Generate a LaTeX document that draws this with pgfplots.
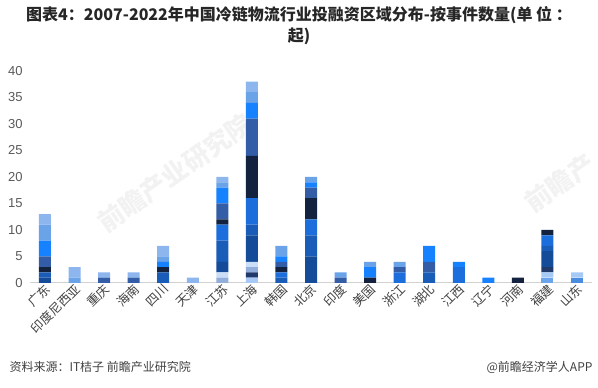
\documentclass[border=0pt]{standalone}
\usepackage{fontspec}
\setmainfont{Liberation Sans}
\newfontfamily\cjk{Noto Sans CJK SC}
\usepackage{pgfplots}
\pgfplotsset{compat=1.18}
\usepackage{pgfplotstable}
\definecolor{cA}{HTML}{4A8CE0}
\definecolor{cB}{HTML}{6CA5EC}
\definecolor{c1}{HTML}{A6C9F5}
\definecolor{c2}{HTML}{203A6B}
\definecolor{c3}{HTML}{93AEDB}
\definecolor{c4}{HTML}{CADFF7}
\definecolor{c5}{HTML}{154C9A}
\definecolor{c6}{HTML}{1A5DB9}
\definecolor{c7}{HTML}{1C6EDD}
\definecolor{c8}{HTML}{13223F}
\definecolor{c9}{HTML}{345DA7}
\definecolor{c10}{HTML}{1682FF}
\definecolor{c11}{HTML}{6AA3E8}
\definecolor{c12}{HTML}{8DB5EE}
\definecolor{tick}{HTML}{595959}
\definecolor{lab}{HTML}{404040}
\pgfplotstableread{
x sA sB s1 s2 s3 s4 s5 s6 s7 s8 s9 s10 s11 s12
0 0 0 0 0 0 0 1 1 0 1 2 3 3 2
1 0 0 0 0 0 0 0 0 0 0 0 0 1 2
2 0 0 0 0 0 0 0 0 0 0 1 0 0 1
3 0 0 0 0 0 0 0 0 0 0 1 0 0 1
4 0 0 0 0 0 0 0 2 0 1 0 1 1 2
5 0 0 0 0 0 0 0 0 0 0 0 0 0 1
6 0 0 0 0 1 1 2 4 3 1 3 3 1 1
7 0 0 1 1 1 1 5 2 5 8 7 3 2 2
8 0 0 0 0 0 0 0 1 1 1 1 1 2 0
9 0 0 0 0 0 0 5 4 3 4 2 1 1 0
10 0 0 0 0 0 0 0 0 0 0 1 0 1 0
11 0 0 0 0 0 0 0 0 0 1 0 2 1 0
12 0 0 0 0 0 0 0 0 2 0 1 0 1 0
13 0 0 0 0 0 0 0 2 0 0 2 3 0 0
14 0 0 0 0 0 0 0 0 3 0 0 1 0 0
15 0 0 0 0 0 0 0 0 0 0 0 1 0 0
16 0 0 0 0 0 0 0 0 0 1 0 0 0 0
17 0 1 1 1 0 0 3 1 2 1 0 0 0 0
18 1 0 1 0 0 0 0 0 0 0 0 0 0 0
}\datatable
\begin{document}
\begin{tikzpicture}
\path[use as bounding box] (0pt,0pt) rectangle (598pt,388pt);
% watermarks
\begin{scope}[text=black!5, font=\cjk\bfseries\fontsize{26}{26}\selectfont]
\node[rotate=35] at (175pt,215pt) {前瞻产业研究院};
\node[rotate=35] at (560pt,205pt) {前瞻产};
\end{scope}
\node[font=\cjk\bfseries\fontsize{16}{18}\selectfont, text=black!85] at (299pt,373pt) {图表4：2007-2022年中国冷链物流行业投融资区域分布-按事件数量(单 位 ：};
\node[font=\cjk\bfseries\fontsize{16}{18}\selectfont, text=black!85] at (299pt,352pt) {起)};
\begin{axis}[
  at={(30.2pt,105pt)}, anchor=south west,
  scale only axis, width=561.6pt, height=212pt,
  ybar stacked, bar width=12pt,
  xmin=-0.5, xmax=18.5, ymin=0, ymax=40,
  ytick={0,5,...,40},
  xtick={0,...,18},
  xticklabels={广东,印度尼西亚,重庆,海南,四川,天津,江苏,上海,韩国,北京,印度,美国,浙江,湖北,江西,辽宁,河南,福建,山东},
  xticklabel style={font=\cjk\fontsize{12.5}{12.5}\selectfont, text=lab, rotate=45, anchor=east, xshift=3pt, yshift=-5pt},
  yticklabel style={font=\fontsize{13}{13}\selectfont, text=tick, xshift=-4pt},
  /pgf/number format/assume math mode=true,
  axis x line*=bottom, axis y line*=left,
  y axis line style={draw=none},
  x axis line style={draw=black!18, line width=1pt, -},
  major tick length=0pt,
  every axis plot/.append style={draw=none},
]
\addplot[fill=cA] table[x=x,y=sA]{\datatable};
\addplot[fill=cB] table[x=x,y=sB]{\datatable};
\addplot[fill=c1] table[x=x,y=s1]{\datatable};
\addplot[fill=c2] table[x=x,y=s2]{\datatable};
\addplot[fill=c3] table[x=x,y=s3]{\datatable};
\addplot[fill=c4] table[x=x,y=s4]{\datatable};
\addplot[fill=c5] table[x=x,y=s5]{\datatable};
\addplot[fill=c6] table[x=x,y=s6]{\datatable};
\addplot[fill=c7] table[x=x,y=s7]{\datatable};
\addplot[fill=c8] table[x=x,y=s8]{\datatable};
\addplot[fill=c9] table[x=x,y=s9]{\datatable};
\addplot[fill=c10] table[x=x,y=s10]{\datatable};
\addplot[fill=c11] table[x=x,y=s11]{\datatable};
\addplot[fill=c12] table[x=x,y=s12]{\datatable};
\end{axis}
\node[anchor=west, font=\cjk\fontsize{12}{12}\selectfont, text=lab] at (6pt,21pt) {资料来源：IT桔子 前瞻产业研究院};
\node[anchor=east, font=\cjk\fontsize{12}{12}\selectfont, text=lab] at (596pt,21pt) {@前瞻经济学人APP};
\end{tikzpicture}
\end{document}
